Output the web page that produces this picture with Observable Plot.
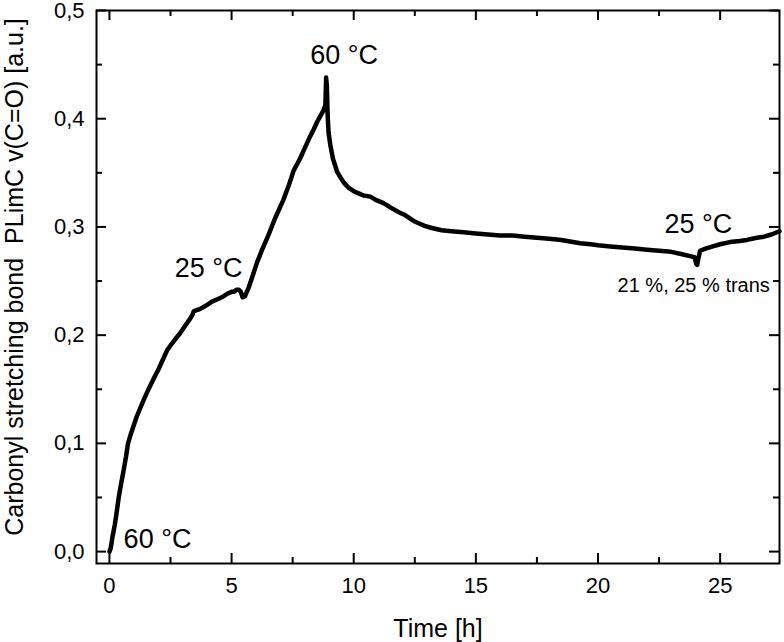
<!DOCTYPE html>
<html><head><meta charset="utf-8">
<script src="https://cdn.jsdelivr.net/npm/d3@7"></script>
<script src="https://cdn.jsdelivr.net/npm/@observablehq/plot@0.6"></script>
<style>body{margin:0;background:#fff}</style>
</head><body><div id="chart"></div>
<script>
const time  = [0.00,0.05,0.12,0.22,0.30,0.38,0.48,0.58,0.68,0.76,0.88,1.00,1.12,1.25,1.38,1.50,1.62,1.75,1.88,2.00,2.18,2.36,2.55,2.72,2.90,3.05,3.20,3.30,3.40,3.45,3.55,3.70,3.85,4.00,4.20,4.40,4.60,4.80,5.00,5.10,5.20,5.30,5.38,5.45,5.55,5.70,5.85,6.04,6.25,6.50,6.78,7.12,7.35,7.54,7.80,8.00,8.20,8.36,8.50,8.62,8.77,8.84,8.87,8.90,8.93,8.97,9.04,9.15,9.32,9.45,9.63,9.80,10.00,10.20,10.40,10.68,10.90,11.22,11.50,11.90,12.10,12.30,12.50,12.70,12.90,13.20,13.60,14.00,14.50,15.00,15.50,16.00,16.50,17.00,17.50,18.00,18.50,19.27,19.70,20.00,20.50,21.00,21.50,22.00,22.50,23.00,23.40,23.77,23.95,24.02,24.06,24.12,24.18,24.40,24.70,25.00,25.40,25.80,26.10,26.50,26.80,27.10,27.43];
const value = [0.000,0.003,0.013,0.025,0.037,0.050,0.063,0.075,0.088,0.100,0.109,0.117,0.125,0.132,0.139,0.145,0.151,0.157,0.163,0.168,0.177,0.186,0.192,0.197,0.202,0.207,0.212,0.215,0.219,0.222,0.223,0.224,0.226,0.228,0.231,0.233,0.235,0.238,0.240,0.240,0.242,0.242,0.240,0.235,0.236,0.244,0.254,0.267,0.279,0.292,0.308,0.325,0.339,0.352,0.363,0.373,0.383,0.390,0.397,0.402,0.408,0.413,0.438,0.430,0.405,0.387,0.376,0.363,0.351,0.346,0.340,0.336,0.333,0.331,0.329,0.328,0.325,0.322,0.318,0.313,0.311,0.308,0.305,0.303,0.301,0.299,0.297,0.296,0.295,0.294,0.293,0.292,0.292,0.291,0.290,0.289,0.288,0.285,0.284,0.283,0.282,0.281,0.280,0.279,0.278,0.277,0.275,0.273,0.272,0.266,0.265,0.272,0.278,0.280,0.282,0.284,0.286,0.287,0.288,0.290,0.291,0.293,0.296];

const xMajor = [0, 5, 10, 15, 20, 25];
const xMinor = [2.5, 7.5, 12.5, 17.5, 22.5];
const yMajor = [0, 0.1, 0.2, 0.3, 0.4, 0.5];
const yMinor = [0.05, 0.15, 0.25, 0.35, 0.45];

const labels = ["60 °C", "25 °C", "60 °C", "25 °C"];
const labelTime = [0.58, 2.67, 8.22, 22.72];
const labelValue = [0.003, 0.254, 0.4506, 0.294];
const noteText = ["21 %, 25 % trans"];
const noteTime = [20.8];
const noteValue = [0.240];

const data = time.map((t, i) => ({t, v: value[i]}));
const ann = labels.map((s, i) => ({s, t: labelTime[i], v: labelValue[i]}));
const notes = noteText.map((s, i) => ({s, t: noteTime[i], v: noteValue[i]}));

const W = 784, H = 642, mL = 96, mR = 5, mT = 10, mB = 79;
const fw = W - mL - mR, fh = H - mT - mB;

const chart = Plot.plot({
  width: W, height: H,
  marginLeft: mL, marginRight: mR, marginTop: mT, marginBottom: mB,
  style: {fontFamily: "'Liberation Sans', Arial, sans-serif", background: "#fff", color: "#000", overflow: "visible"},
  x: {domain: [-0.53, 27.43], label: null},
  y: {domain: [-0.011, 0.5], label: null},
  marks: [
    Plot.line(data, {x: "t", y: "v", stroke: "#000", strokeWidth: 4.5, strokeLinejoin: "round"}),
    Plot.ruleX(xMajor, {insetTop: fh - 10, stroke: "#000", strokeWidth: 2}),
    Plot.ruleX(xMinor, {insetTop: fh - 6, stroke: "#000", strokeWidth: 2}),
    Plot.ruleX(xMajor, {insetBottom: fh - 10, stroke: "#000", strokeWidth: 2}),
    Plot.ruleX(xMinor, {insetBottom: fh - 6, stroke: "#000", strokeWidth: 2}),
    Plot.ruleY(yMajor, {insetRight: fw - 10, stroke: "#000", strokeWidth: 2}),
    Plot.ruleY(yMinor, {insetRight: fw - 6, stroke: "#000", strokeWidth: 2}),
    Plot.ruleY(yMajor, {insetLeft: fw - 10, stroke: "#000", strokeWidth: 2}),
    Plot.ruleY(yMinor, {insetLeft: fw - 6, stroke: "#000", strokeWidth: 2}),
    Plot.frame({stroke: "#000", strokeWidth: 2}),
    Plot.axisX(xMajor, {tickSize: 0, tickPadding: 14, fontSize: 22, label: null, fill: "#000"}),
    Plot.axisY(yMajor, {tickSize: 0, tickPadding: 12, fontSize: 22, label: null, fill: "#000",
      tickFormat: d => d.toFixed(1).replace(".", ",")}),
    Plot.text(ann, {x: "t", y: "v", text: "s", textAnchor: "start", lineAnchor: "bottom", fontSize: 27, fill: "#000"}),
    Plot.text(notes, {x: "t", y: "v", text: "s", textAnchor: "start", lineAnchor: "bottom", fontSize: 20, fill: "#000"}),
    Plot.text(["Time [h]"], {frameAnchor: "bottom", dy: 73, lineAnchor: "bottom", fontSize: 25, fill: "#000"}),
    Plot.text(["Carbonyl stretching bond  PLimC v(C=O) [a.u.]"], {frameAnchor: "left", textAnchor: "middle", dx: -74, dy: -10, rotate: -90, lineAnchor: "bottom", fontSize: 25, fill: "#000"})
  ]
});
document.getElementById("chart").appendChild(chart);
</script>
</body></html>
